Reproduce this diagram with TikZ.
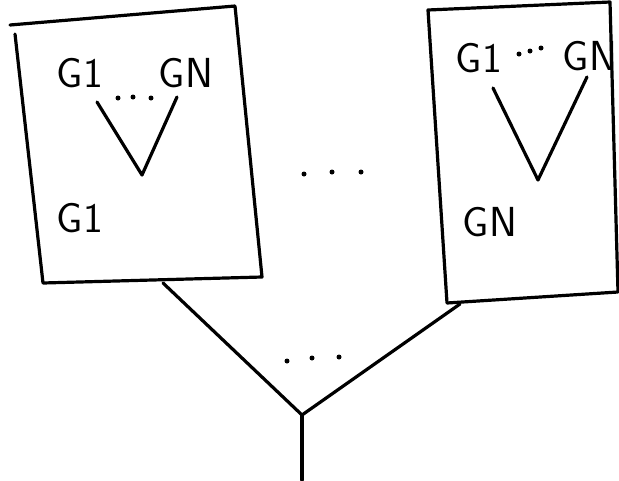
\documentclass[tikz,border=0pt]{standalone}
\begin{document}
\begin{tikzpicture}[x=1pt,y=-1pt,
  ink/.style={line width=3.2pt,line join=round,line cap=round},
  lbl/.style={font=\fontsize{42}{44}\selectfont\sffamily,inner sep=0pt},
  dot/.style={circle,fill=black,inner sep=0pt,minimum size=5pt}]
\useasboundingbox (0,0) rectangle (619,480);
% left box
\coordinate (L1) at (10,25); \coordinate (L2) at (235,6);
\coordinate (L3) at (262,277); \coordinate (L4) at (43,283);
\draw[ink] (L1) -- (L2) -- (L3) -- (L4) -- (15,34);
\node[lbl] (lg1) at (80,73) {G1};
\node[lbl] (lgn) at (186,73) {GN};
\node[dot] (ld1) at (118,98) {}; \node[dot] (ld2) at (133,97) {}; \node[dot] (ld3) at (151,98) {};
\coordinate (lva) at (97,102); \coordinate (lvb) at (142,175); \coordinate (lvc) at (177,97);
\draw[ink] (lva) -- (lvb) -- (lvc);
\node[lbl] (lg1b) at (80,218) {G1};
% right box
\coordinate (R1) at (428,10); \coordinate (R2) at (610,2);
\coordinate (R3) at (618,292); \coordinate (R4) at (447,303);
\draw[ink] (R1) -- (R2) -- (R3) -- (R4) -- cycle;
\node[lbl] (rg1) at (479,58) {G1};
\node[dot] (rd1) at (519,54) {}; \node[dot] (rd2) at (530,51) {}; \node[dot] (rd3) at (541,48) {};
\node[lbl] (rgn) at (590,56) {GN};
\coordinate (rva) at (493,88); \coordinate (rvb) at (538,180); \coordinate (rvc) at (587,77);
\draw[ink] (rva) -- (rvb) -- (rvc);
\node[lbl] (rgnb) at (490,222) {GN};
% middle dots
\node[dot] (m1) at (304,174) {}; \node[dot] (m2) at (332,172) {}; \node[dot] (m3) at (361,172) {};
% tree
\coordinate (tl) at (163,283); \coordinate (tr) at (460,304);
\coordinate (root) at (302,415); \coordinate (stem) at (302,480);
\draw[ink] (tl) -- (root) -- (tr);
\draw[ink] (root) -- (stem);
\node[dot] (b1) at (287,361) {}; \node[dot] (b2) at (312,358) {}; \node[dot] (b3) at (339,357) {};
\end{tikzpicture}
\end{document}
